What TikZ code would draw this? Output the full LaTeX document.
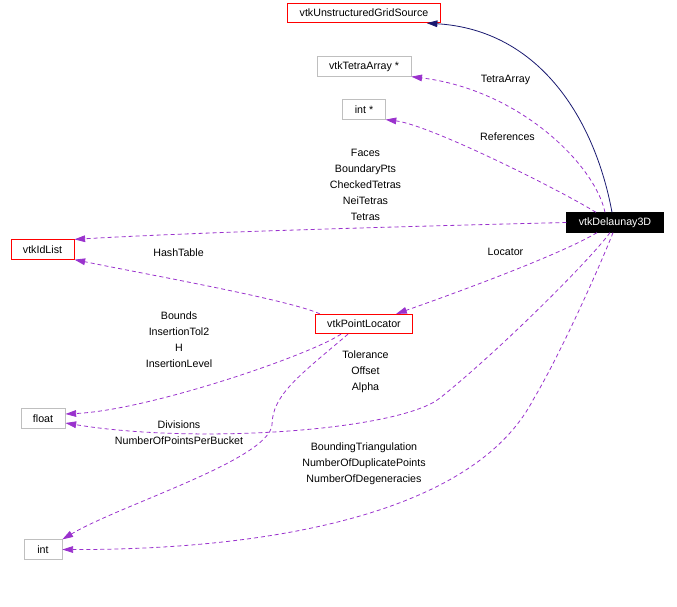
\documentclass[tikz,border=0pt]{standalone}
\usepackage{fontspec}
\setmainfont{Liberation Sans}
\usepackage{tikz}
\usetikzlibrary{arrows.meta,positioning,calc}
\definecolor{dxpurple}{HTML}{9A32CD}
\definecolor{dxnavy}{HTML}{191970}
\definecolor{dxgrey}{HTML}{BFBFBF}

\begin{document}
\begin{tikzpicture}[
x=0.75pt,y=-0.75pt,
every node/.style={font=\fontsize{8}{12}\selectfont},
cls/.style={draw,inner xsep=9pt,inner ysep=0pt,minimum height=14.6pt,
minimum width=28.5pt,line width=0.6pt},
doc/.style={cls,draw=red},
ext/.style={cls,draw=dxgrey},
cur/.style={cls,fill=black,text=white},
lbl/.style={align=center,inner sep=0pt},
use/.style={-{Triangle[length=8pt,width=5pt]},dxpurple,
dash pattern=on 3pt off 2.25pt,line width=0.6pt},
inh/.style={-{Triangle[length=8pt,width=5pt]},dxnavy,line width=0.6pt}
]
\useasboundingbox (0,0) rectangle (677,606);

\node[doc] (ugs) at (364,13) {vtkUnstructuredGridSource};
\node[ext] (ta) at (364,66.5) {vtkTetraArray *};
\node[ext] (ip) at (364,109.5) {int *};
\node[cur] (dl) at (615,222.5) {vtkDelaunay3D};
\node[doc] (idl) at (42.5,249.5) {vtkIdList};
\node[doc] (pl) at (364,324) {vtkPointLocator};
\node[ext] (fl) at (43,418.5) {float};
\node[ext] (in) at (43,549.5) {int};

\draw[inh] ($(dl.north)+(-3,0)$) .. controls (595,120) and (540,30) .. ($(ugs.south east)+(-14,0)$);
\draw[use] ($(dl.north)+(-10,0)$) .. controls (595,165) and (520,90) .. (ta.south east);
\draw[use] ($(dl.north)+(-19,0)$) .. controls (560,190) and (430,125) .. (ip.south east);
\draw[use] (dl.west) .. controls (420,226) and (200,232) .. (idl.north east);
\draw[use] ($(pl.north west)+(5,0)$) .. controls (290,300) and (150,275) .. (idl.south east);
\draw[use] ($(dl.south)+(-18,0)$) .. controls (560,255) and (450,295) .. ($(pl.north east)+(-17,0)$);
\draw[use] ($(pl.south)+(-23,0)$) .. controls (310,355) and (150,410) .. ($(fl.east)+(0,-4.5)$);
\draw[use] ($(dl.south)+(-5,0)$) .. controls (590,260) and (500,350) .. (440,398)
  .. controls (400,430) and (200,445) .. ($(fl.east)+(0,4.5)$);
\draw[use] ($(pl.south)+(-16,0)$) .. controls (300,375) and (272,395) .. (272,425)
  .. controls (268,460) and (120,505) .. (in.north east);
\draw[use] ($(dl.south)+(-2,0)$) .. controls (600,266) and (560,355) .. (533,400)
  .. controls (470,520) and (250,550) .. (in.east);

\node[lbl] (lta) at (505.5,80) {TetraArray};
\node[lbl] (lref) at (507.5,137) {References};
\node[lbl] (ltet) at (365.5,185) {Faces\\BoundaryPts\\CheckedTetras\\NeiTetras\\Tetras};
\node[lbl] (lhash) at (178.5,253) {HashTable};
\node[lbl] (lloc) at (505.5,252) {Locator};
\node[lbl] (lbnd) at (179,340) {Bounds\\InsertionTol2\\H\\InsertionLevel};
\node[lbl] (ltol) at (365.5,372) {Tolerance\\Offset\\Alpha};
\node[lbl] (ldiv) at (179,433) {Divisions\\NumberOfPointsPerBucket};
\node[lbl] (lbt) at (364,464) {BoundingTriangulation\\NumberOfDuplicatePoints\\NumberOfDegeneracies};
\end{tikzpicture}
\end{document}
